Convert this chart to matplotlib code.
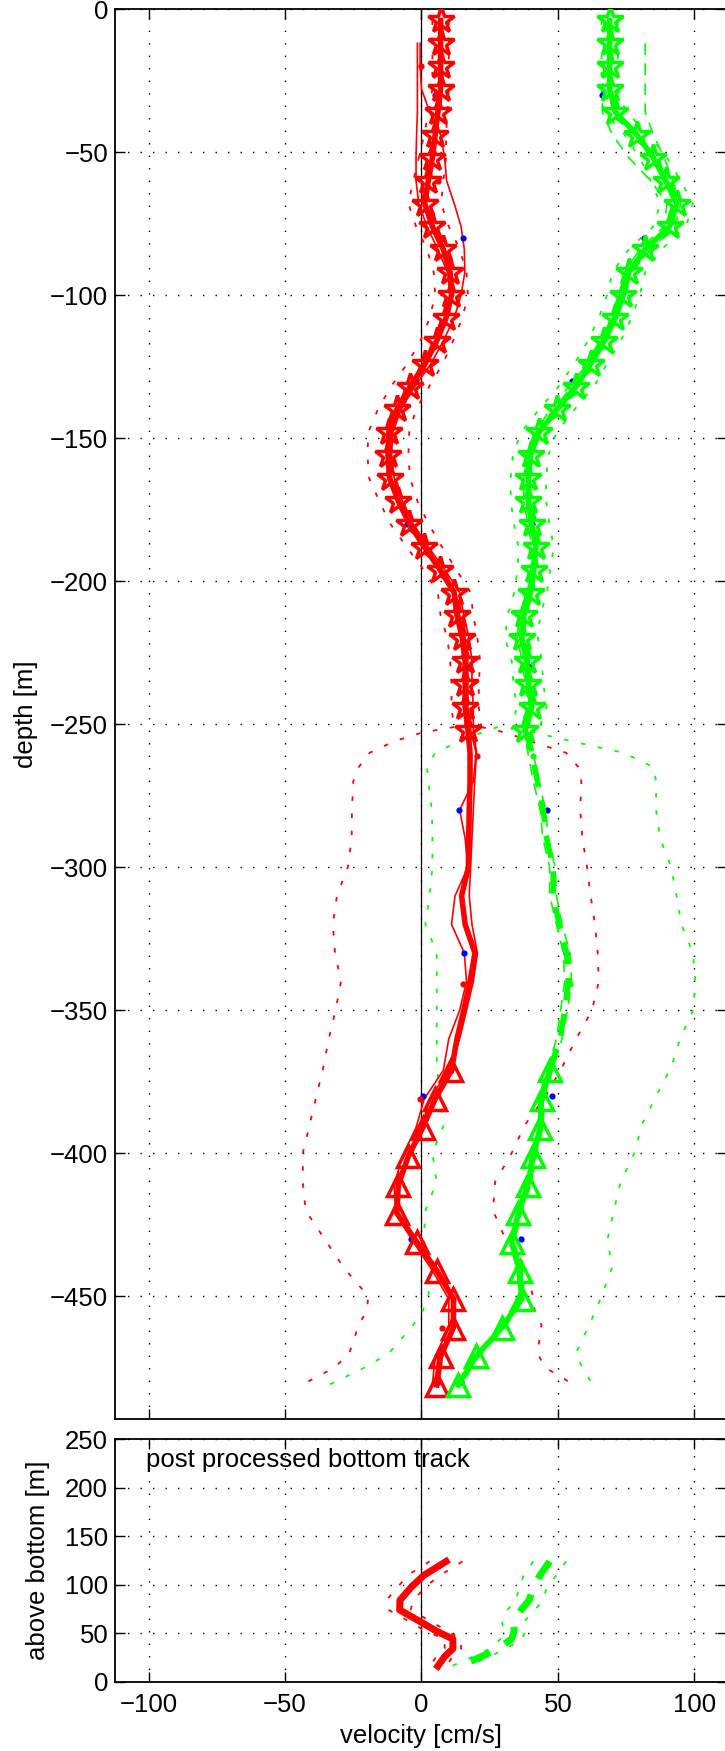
import numpy as np
import matplotlib
matplotlib.use('Agg')
import matplotlib.pyplot as plt

plt.rcParams['font.family'] = ['Liberation Sans', 'DejaVu Sans']

# profundidades del perfil principal: estrellas, tramo medio, triangulos
z_star = [-4, -12, -20, -28, -36, -44, -52, -60, -68, -76, -84, -92, -100, -108, -116,
          -124, -132, -140, -148, -156, -164, -172, -180, -188, -196, -204, -212, -220,
          -228, -236, -244, -252]
z_mid = [-260, -270, -280, -290, -300, -310, -320, -330, -340, -350, -360]
z_tri = [-371, -381, -391, -401, -411, -421, -431, -441, -451, -461, -471, -481]

u_star = [7, 7, 7, 7, 6, 5, 4, 2.5, 1.2, 4, 8, 10.5, 11, 9, 5.6, 1.3, -4.2, -9, -12,
          -12.3, -11.7, -8.5, -4.4, 1, 6.8, 12, 13, 15, 16, 16, 16, 17]
u_mid = [17.8, 17.8, 17.5, 17.3, 17.2, 14.7, 16, 19.6, 17.8, 15.5, 13]
u_tri = [11, 5, 0.5, -4.8, -8.5, -9, -1.8, 5.6, 11.7, 11.7, 7, 5.6]

v_star = [69, 69, 69, 69, 71, 79, 85, 89.5, 93.5, 91, 82, 76, 74, 71, 67, 62, 56.7, 49.6,
          43, 40, 39.2, 39.2, 40.4, 42, 41.2, 40, 37.5, 36.7, 38.6, 39.2, 40.4, 38]
v_mid = [40.5, 42.5, 44.6, 45.9, 48.3, 48.3, 50.5, 53.2, 53.8, 52.5, 50.8]
v_tri = [47, 44, 43.5, 41, 39, 35.5, 33, 36, 36.7, 29.4, 20, 13.5]

err_u = [3, 3, 3, 3, 3.5, 4, 5, 5.5, 6, 6, 6, 6, 6, 6, 6, 6.5, 7, 7, 7.5, 7.5, 7.5, 7, 7,
         6.5, 6, 6, 6, 5.5, 5.5, 5, 5, 5]
err_v = [3, 3, 3, 3, 4, 4.5, 5, 5.5, 6, 6, 6, 6, 6, 6, 6, 6, 6.5, 6.5, 6.5, 6.5, 6.5, 6.5,
         6.5, 6.5, 6, 6, 6, 6, 5.5, 5.5, 5.5, 5]

# otras soluciones (lineas finas), desde -12 m hasta el fondo
u_alt1 = [-1.5, -1.5, -1.5, -1.5, -1.8, -2, -2, -1, 2, 6, 9.5, 11, 9.5, 6, 2, -3, -8, -11,
          -11.5, -11, -8, -4, 1.5, 7.5, 12.5, 14, 16, 17, 17, 17, 18,
          20, 19, 14, 16, 17, 12.3, 11, 15.7, 16.5, 14, 10,
          8, 1, -2, -7, -10, -9.5, -3, 4, 10, 10, 5, 4]
u_alt2 = [-0.5, -0.5, 0, 3, 7, 8.5, 9.2, 12, 14.5, 15.7, 15.9, 14.5, 12, 8, 3.5, -2.5, -7.5,
          -10.5, -11, -10, -7, -3, 2.5, 8.5, 14, 15.5, 17.5, 18.5, 18.5, 19, 19,
          20.2, 19.5, 19, 18.5, 18, 17.5, 18.5, 20.5, 19, 16.5, 14,
          10, 3, 0, -5, -9, -9.5, -1, 6, 12.5, 12, 6, 5]
v_alt1 = [82, 82, 82, 82, 85, 89, 92, 95, 93, 84, 77, 73, 70, 66, 61, 54, 47, 42, 38.5,
          37.5, 37.5, 39, 40.5, 40, 38.5, 36, 35, 37, 38, 39.5, 37.5,
          39, 41, 43.5, 44.5, 47, 47, 49.5, 52, 52.5, 51, 49.5,
          46, 43, 43, 40, 38, 35, 32.5, 35, 36, 28.5, 19, 13]
v_alt2 = [67, 67, 66.3, 66.3, 70, 76, 84, 90, 89, 80, 74.5, 72.5, 70, 65.5, 60, 55, 48.5,
          42, 39.5, 38.5, 38.5, 39.5, 41.5, 41.5, 40.5, 38.5, 37.5, 39.5, 40, 41, 39,
          41, 43, 45.5, 46.5, 49, 49.5, 51.5, 54.5, 55, 53.5, 51.5,
          48, 45, 44.5, 42, 40, 36.5, 34, 37, 37.5, 30.5, 21, 14.5]

# envolventes punteadas (bottom track)
z_env = [-251, -253, -256, -260, -265, -270, -280, -290, -300, -310, -320, -330, -340,
         -350, -360, -370, -380, -390, -400, -410, -420, -430, -440, -450, -455, -460,
         -470, -475, -481]
u_env_lo = [12, 0, -10, -19, -23, -25, -25.5, -25.6, -27, -31, -32.5, -31.7, -29.5, -31.5,
            -34, -36, -38.5, -41, -43.5, -43.5, -42.5, -35.5, -28.5, -19.5, -20, -23,
            -26.5, -32, -44]
u_env_hi = [22, 31, 40, 53, 57.5, 58.6, 58.2, 59, 60.7, 62, 63.6, 64.6, 65, 62.5, 56.7,
            51.5, 45.5, 38, 33, 27, 26.2, 30.8, 38.5, 40.8, 41.5, 44, 42.5, 45.5, 56]
v_env_lo = [28, 22, 14, 5, 2, 2.5, 3.8, 4, 4, 3, 1.4, 5.6, 5.6, 5.6, 5.6, 5.6, 7, 8.2, 4,
            5.5, 1.5, 0.8, 3.5, 2.5, 0.5, -3, -12, -21, -34]
v_env_hi = [34, 42, 55, 74, 85, 86, 86, 87.5, 91.5, 93.5, 95.3, 99.5, 100.4, 99.6, 94.8,
            91.5, 86, 80.8, 78, 73, 70.5, 68.2, 69.8, 66, 63.8, 61.5, 56.5, 59, 62.8]

blue_z = [-30, -80, -130, -180, -230, -280, -330, -380, -430, -480]
blue_u = [4.9, 15.3, -2.4, -5.4, 17.2, 13.9, 15.7, 0.7, -4, 6.2]
blue_v = [66.3, 81.7, 55.1, 40.5, 39.8, 45.9, 53, 47.7, 36.5, 14.5]

rdot_z = [-20, -60, -261, -341, -381, -461]
rdot_u = [0, 6.2, 20.2, 15.3, -0.5, 7.4]
gdot_z = [-261, -341]
gdot_v = [41, 54.4]

# panel inferior: bottom track post procesado
z_ab = [124, 110, 98, 84, 74, 62, 52, 44, 34, 26, 16]
u_bt = [9, 1, -3.6, -7.9, -8, -0.5, 5.6, 11.5, 11.5, 8.5, 6]
v_bt = [47, 43.5, 41, 39.5, 36.5, 33.6, 34, 33, 28, 22, 14]
err_bt_u = [6, 6, 5, 5, 4, 4, 4, 3, 3, 3, 3]
err_bt_v = [6, 6, 5, 5, 5, 4, 4, 4, 3, 3, 3]

RED = '#ff0000'
GRN = '#00ff00'
FS = 18.5
dotted = (0, (2.5, 7))

fig = plt.figure(figsize=(7.25, 17.51), dpi=100)
ax1 = fig.add_axes([0.1588, 0.18944, 0.8440, 0.80542])
ax2 = fig.add_axes([0.1588, 0.03958, 0.8440, 0.13843])

for ax in (ax1, ax2):
    ax.set_xlim(-112.3, 112.0)
    ax.set_xticks([-100, -50, 0, 50, 100])
    ax.grid(True, color='black', linestyle=(0, (1, 8)), linewidth=1.0)
    ax.set_axisbelow(True)
    ax.tick_params(direction='in', length=7, width=1.0, top=True, right=True,
                   labelsize=FS, pad=5)
    ax.tick_params(axis='x', pad=8)
    for s in ax.spines.values():
        s.set_linewidth(1.3)
    ax.axvline(0, color='black', lw=0.9, zorder=1.5)

ax1.set_ylim(-493, 0)
ax1.set_yticks(np.arange(-450, 1, 50))
ax1.tick_params(labelbottom=False)
ax1.set_ylabel('depth [m]', fontsize=FS, labelpad=9)

z_all = z_star + z_mid + z_tri
us = np.array(u_star)
vs = np.array(v_star)

# envolventes
for xe, c in ((u_env_lo, RED), (u_env_hi, RED), (v_env_lo, GRN), (v_env_hi, GRN)):
    ax1.plot(xe, z_env, color=c, lw=1.3, linestyle=dotted, zorder=2)

# error junto a las estrellas
for xe in (us - err_u, us + err_u):
    ax1.plot(xe, z_star, color=RED, lw=1.3, linestyle=dotted, zorder=2)
for xe in (vs - err_v, vs + err_v):
    ax1.plot(xe, z_star, color=GRN, lw=1.3, linestyle=dotted, zorder=2)

# soluciones alternativas
for ua in (u_alt1, u_alt2):
    ax1.plot(ua, z_all[1:], color=RED, lw=1.2, zorder=3)
for va in (v_alt1, v_alt2):
    ax1.plot(va, z_all[1:], color=GRN, lw=1.2, linestyle=(0, (7, 5)), zorder=3)

ax1.plot(blue_u, blue_z, 'o', color='blue', ms=4.5, mec='none', zorder=3.5)
ax1.plot(blue_v, blue_z, 'o', color='blue', ms=4.5, mec='none', zorder=3.5)
ax1.plot(rdot_u, rdot_z, 'o', color=RED, ms=4.5, mec='none', zorder=3.5)
ax1.plot(gdot_v, gdot_z, 'o', color=GRN, ms=4.5, mec='none', zorder=3.5)

# perfil principal
ax1.plot(u_star + u_mid + u_tri[:1], z_star + z_mid + z_tri[:1], color=RED, lw=4, zorder=4)
ax1.plot(u_star, z_star, linestyle='none', marker='*', ms=20, mfc='none', mec=RED, mew=2.5,
         zorder=4)
ax1.plot(u_tri, z_tri, color=RED, lw=4, marker='^', ms=16, mfc='none', mec=RED, mew=2.5,
         zorder=4)

ax1.plot(v_star, z_star, color=GRN, lw=4, marker='*', ms=20, mfc='none', mec=GRN, mew=2.5,
         zorder=4)
ax1.plot(v_star[-1:] + v_mid + v_tri[:1], z_star[-1:] + z_mid + z_tri[:1], color=GRN,
         lw=4, linestyle=(0, (4, 2.5)), zorder=4)
ax1.plot(v_tri, z_tri, color=GRN, lw=4, marker='^', ms=16, mfc='none', mec=GRN, mew=2.5,
         zorder=4)

# panel inferior
ax2.set_ylim(0, 250)
ax2.set_yticks(np.arange(0, 251, 50))
ax2.set_ylabel('above bottom [m]', fontsize=FS, labelpad=11)
ax2.set_xlabel('velocity [cm/s]', fontsize=FS, labelpad=5)

ub = np.array(u_bt)
vb = np.array(v_bt)
for xe in (ub - err_bt_u, ub + err_bt_u):
    ax2.plot(xe, z_ab, color=RED, lw=1.3, linestyle=dotted, zorder=2)
for xe in (vb - err_bt_v, vb + err_bt_v):
    ax2.plot(xe, z_ab, color=GRN, lw=1.3, linestyle=dotted, zorder=2)
ax2.plot(u_bt, z_ab, color=RED, lw=5, zorder=4)
ax2.plot(v_bt, z_ab, color=GRN, lw=5, linestyle=(0, (3, 2.5)), zorder=4)
ax2.text(-101, 229, 'post processed bottom track', fontsize=FS, va='center', ha='left')

fig.savefig('out.png', dpi=100)
